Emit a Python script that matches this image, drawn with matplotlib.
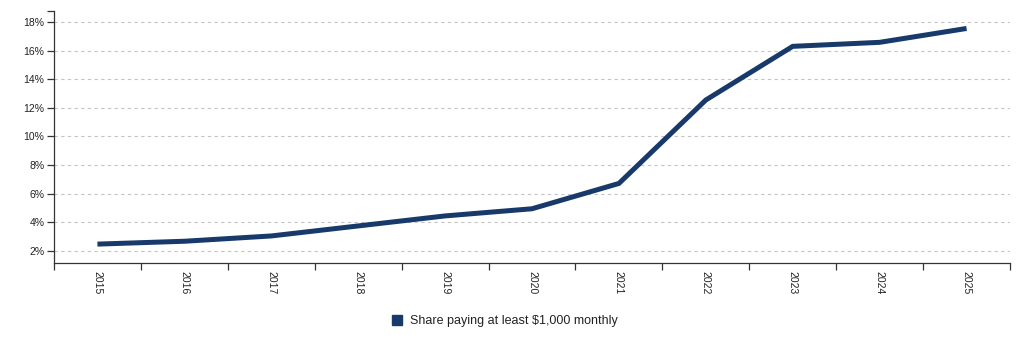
import matplotlib.pyplot as plt
from matplotlib.patches import Patch
from matplotlib.ticker import FixedLocator, FuncFormatter

plt.rcParams['font.family'] = ['Liberation Sans', 'DejaVu Sans']

# data
years = ['2015', '2016', '2017', '2018', '2019', '2020',
         '2021', '2022', '2023', '2024', '2025']
share = [2.48, 2.68, 3.05, 3.75, 4.45, 4.95, 6.72, 12.55, 16.3, 16.58, 17.55]
series_name = 'Share paying at least $1,000 monthly'
y_ticks = [2, 4, 6, 8, 10, 12, 14, 16, 18]

navy = '#173a6b'
axis_col = '#333333'

fig = plt.figure(figsize=(10.24, 3.41), dpi=100)
ax = fig.add_axes([54 / 1024, 1 - 263 / 341, (1010 - 54) / 1024, (263 - 11) / 341])

x = list(range(len(years)))
ax.plot(x, share, color=navy, lw=3.6, solid_joinstyle='miter', solid_capstyle='butt', zorder=3)

ax.set_xlim(-0.5, len(years) - 0.5)
ax.set_ylim(1.16, 18.77)

# band-style x axis: ticks on the boundaries, labels in the middle
ax.set_xticks([i - 0.5 for i in range(len(years) + 1)])
ax.set_xticklabels([])
ax.set_xticks(x, minor=True)
ax.set_xticklabels(years, minor=True, rotation=-90, fontsize=7.5, color='#222222')
ax.tick_params(axis='x', which='major', length=5, width=0.9, color=axis_col)
ax.tick_params(axis='x', which='minor', length=0, pad=6)

ax.set_yticks(y_ticks)
ax.yaxis.set_major_formatter(FuncFormatter(lambda v, p: f'{v:.0f}%'))
ax.yaxis.set_minor_locator(FixedLocator([18.77]))
ax.tick_params(axis='y', which='both', length=5, width=0.9, color=axis_col,
               labelsize=7.5, labelcolor='#222222', pad=2)

ax.grid(axis='y', which='major', linestyle=(0, (3, 3)), color='#c4c4c4', lw=0.8)
ax.set_axisbelow(True)

for side in ['top', 'right']:
    ax.spines[side].set_visible(False)
for side in ['left', 'bottom']:
    ax.spines[side].set_color(axis_col)
    ax.spines[side].set_linewidth(0.9)

handle = Patch(facecolor=navy, edgecolor=navy, label=series_name)
fig.legend(handles=[handle], loc='center', bbox_to_anchor=(505 / 1024, 1 - 321 / 341),
           frameon=False, fontsize=9, handlelength=0.8, handleheight=0.8,
           handletextpad=0.6, labelcolor='#222222')

fig.savefig('out.png', dpi=100)
